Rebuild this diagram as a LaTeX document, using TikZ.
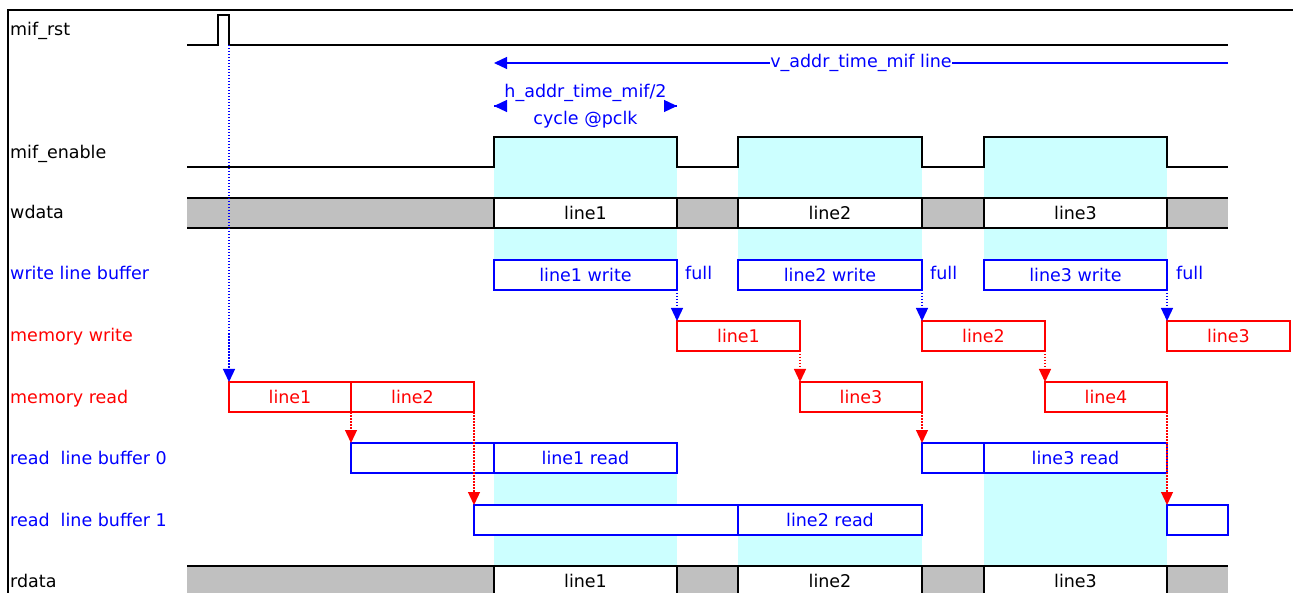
\documentclass[tikz,border=0pt]{standalone}
\usepackage{fontspec}
\setmainfont{DejaVu Sans}
\usetikzlibrary{arrows.meta}
\definecolor{actcyan}{HTML}{CCFFFF}
\definecolor{busgray}{HTML}{C0C0C0}
\begin{document}
\begin{tikzpicture}[x=1pt, y=-1pt,
  font=\fontsize{17.5}{20}\selectfont,
  >={Triangle[length=13pt,width=12pt]},
  sig/.style={line width=1.4pt, black},
  box/.style={draw, fill=white, line width=1.3pt, minimum height=30pt,
    inner sep=0pt, outer sep=0pt, anchor=north west,
    text height=12.5pt, text depth=0pt},
  bbox/.style={box, draw=blue, text=blue},
  rbox/.style={box, draw=red, text=red},
  dbox/.style={box, draw=black, line width=1.4pt},
  lab/.style={anchor=base west, inner sep=0pt},
  link/.style={line width=1.3pt, dash pattern=on 1.5pt off 1.5pt, ->},
  span/.style={blue, line width=1.3pt},
  fullmark/.style={anchor=base west, inner sep=0pt, text=blue}
]
\useasboundingbox (0,0) rectangle (1293,593);

% active periods of mif_enable
\fill[actcyan] (494,137) rectangle (677,260);
\fill[actcyan] (738,137) rectangle (922,260);
\fill[actcyan] (984,137) rectangle (1167,260);
\fill[actcyan] (494,474) rectangle (677,566);
\fill[actcyan] (738,535) rectangle (922,566);
\fill[actcyan] (984,474) rectangle (1167,566);

% outer frame
\draw[line width=2.4pt] (8,593) -- (8,10) -- (1293,10);

% signal names
\node[lab] (nrst) at (10,36) {mif\_rst};
\node[lab] (nen) at (10,159) {mif\_enable};
\node[lab] (nwd) at (10,219) {wdata};
\node[lab, text=blue] (nwlb) at (10,280) {write line buffer};
\node[lab, text=red] (nmw) at (10,342) {memory write};
\node[lab, text=red] (nmr) at (10,403) {memory read};
\node[lab, text=blue] (nrb0) at (10,464) {read\ \ line buffer 0};
\node[lab, text=blue] (nrb1) at (10,526) {read\ \ line buffer 1};
\node[lab] (nrd) at (10,587) {rdata};

% mif_rst pulse
\draw[sig] (187,45) -- (218,45) -- (218,15) -- (229,15) -- (229,45) -- (1228,45);
\coordinate (rstfall) at (229,45);

% mif_enable
\draw[sig] (187,167) -- (494,167) -- (494,137) -- (677,137) -- (677,167)
  -- (738,167) -- (738,137) -- (922,137) -- (922,167) -- (984,167)
  -- (984,137) -- (1167,137) -- (1167,167) -- (1228,167);

% frame period
\coordinate (vR) at (1228,63);
\coordinate (vL) at (494,63);
\draw[span, ->] (vR) --
  node[fill=white, inner sep=0.6pt, text=blue] (vlab) {v\_addr\_time\_mif line} (vL);

% line period: label over the span, tips drawn on top of the label
\coordinate (hL) at (494,106);
\coordinate (hR) at (677,106);
\draw[span] (hL) --
  node[fill=white, inner sep=0pt, text=blue, align=center,
       font=\fontsize{17.5}{27}\selectfont] (hlab) {h\_addr\_time\_mif/2\\cycle @pclk} (hR);
\draw[span, ->] ([xshift=1pt]hL) -- (hL);
\draw[span, ->] ([xshift=-1pt]hR) -- (hR);

% wdata bus
\fill[busgray] (187,198) rectangle (494,228);
\fill[busgray] (677,198) rectangle (738,228);
\fill[busgray] (922,198) rectangle (984,228);
\fill[busgray] (1167,198) rectangle (1228,228);
\draw[sig] (187,198) -- (1228,198);
\draw[sig] (187,228) -- (1228,228);
\node[dbox, minimum width=183pt] (wd1) at (494,198) {line1};
\node[dbox, minimum width=184pt] (wd2) at (738,198) {line2};
\node[dbox, minimum width=183pt] (wd3) at (984,198) {line3};

% rdata bus
\fill[busgray] (187,566) rectangle (494,596);
\fill[busgray] (677,566) rectangle (738,596);
\fill[busgray] (922,566) rectangle (984,596);
\fill[busgray] (1167,566) rectangle (1228,596);
\draw[sig] (187,566) -- (1228,566);
\node[dbox, minimum width=183pt] (rd1) at (494,566) {line1};
\node[dbox, minimum width=184pt] (rd2) at (738,566) {line2};
\node[dbox, minimum width=183pt] (rd3) at (984,566) {line3};

% write line buffer
\node[bbox, minimum width=183pt] (wb1) at (494,260) {line1 write};
\node[bbox, minimum width=184pt] (wb2) at (738,260) {line2 write};
\node[bbox, minimum width=183pt] (wb3) at (984,260) {line3 write};
\node[fullmark] (f1) at (685,280) {full};
\node[fullmark] (f2) at (930,280) {full};
\node[fullmark] (f3) at (1176,280) {full};

% memory write
\node[rbox, minimum width=123pt] (mw1) at (677,321) {line1};
\node[rbox, minimum width=123pt] (mw2) at (922,321) {line2};
\node[rbox, minimum width=123pt] (mw3) at (1167,321) {line3};

% memory read
\node[rbox, minimum width=122pt] (mr1) at (229,382) {line1};
\node[rbox, minimum width=123pt] (mr2) at (351,382) {line2};
\node[rbox, minimum width=122pt] (mr3) at (800,382) {line3};
\node[rbox, minimum width=122pt] (mr4) at (1045,382) {line4};

% read line buffer 0
\node[bbox, minimum width=143pt] (rb0e1) at (351,443) {};
\node[bbox, minimum width=183pt] (rb0a) at (494,443) {line1 read};
\node[bbox, minimum width=62pt] (rb0e2) at (922,443) {};
\node[bbox, minimum width=183pt] (rb0b) at (984,443) {line3 read};

% read line buffer 1
\node[bbox, minimum width=264pt] (rb1e1) at (474,505) {};
\node[bbox, minimum width=184pt] (rb1a) at (738,505) {line2 read};
\node[bbox, minimum width=61pt] (rb1e2) at (1167,505) {};

% triggers
\draw[link, blue] (rstfall) -- (mr1.north west);
\draw[link, blue] (wb1.south east) -- (mw1.north west);
\draw[link, blue] (wb2.south east) -- (mw2.north west);
\draw[link, blue] (wb3.south east) -- (mw3.north west);
\draw[link, red] (mw1.south east) -- (mr3.north west);
\draw[link, red] (mw2.south east) -- (mr4.north west);
\draw[link, red] (mr1.south east) -- (rb0e1.north west);
\draw[link, red] (mr2.south east) -- (rb1e1.north west);
\draw[link, red] (mr3.south east) -- (rb0e2.north west);
\draw[link, red] (mr4.south east) -- (rb1e2.north west);
\end{tikzpicture}
\end{document}
